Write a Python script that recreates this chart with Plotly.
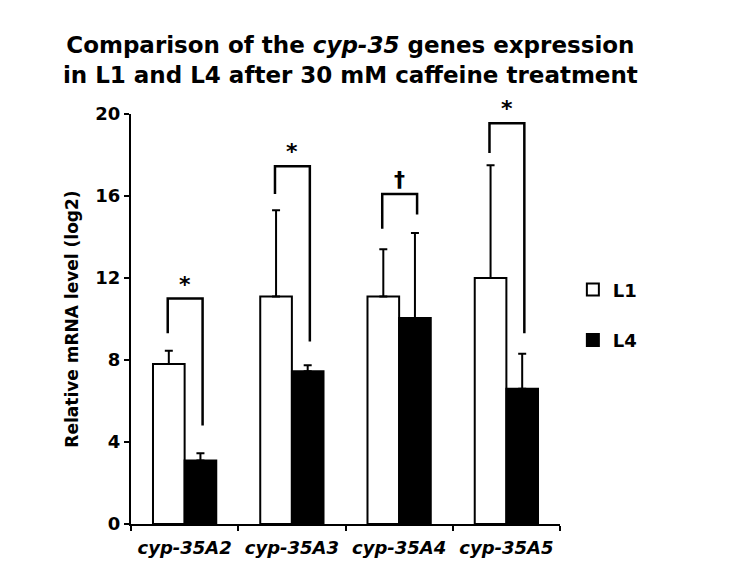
import plotly.graph_objects as go

genes = ["cyp-35A2", "cyp-35A3", "cyp-35A4", "cyp-35A5"]
l1_values = [7.8, 11.1, 11.1, 12.0]
l1_err = [0.65, 4.2, 2.3, 5.5]
l4_values = [3.1, 7.45, 10.05, 6.6]
l4_err = [0.35, 0.3, 4.15, 1.7]

# significance brackets (y values)
bracket_top = [11.0, 17.45, 16.1, 19.55]
left_leg_bottom = [9.3, 16.1, 14.4, 18.1]
right_leg_bottom = [4.8, 8.9, 15.1, 9.3]
sig_marks = ["*", "*", "†", "*"]

font = "DejaVu Sans, Verdana, sans-serif"
tick_text = ["<b><i>%s</i></b>" % g for g in genes]

fig = go.Figure()
fig.add_trace(go.Bar(
    x=genes, y=l1_values, name="<b>L1</b>",
    marker=dict(color="white", line=dict(color="black", width=2)),
    error_y=dict(type="data", symmetric=False, array=l1_err,
                 arrayminus=[0] * len(genes), color="black",
                 thickness=2, width=4),
    legendgroup="a",
))
fig.add_trace(go.Bar(
    x=genes, y=l4_values, name="<b>L4</b>",
    marker=dict(color="black", line=dict(color="black", width=2)),
    error_y=dict(type="data", symmetric=False, array=l4_err,
                 arrayminus=[0] * len(genes), color="black",
                 thickness=2, width=4),
    legendgroup="b",
))

bargap = 0.41
off = (1 - bargap) / 4
for i in range(len(genes)):
    xl = i - off - 0.01
    xr = i + off + 0.02
    path = "M %f,%f L %f,%f L %f,%f L %f,%f" % (
        xl, left_leg_bottom[i], xl, bracket_top[i],
        xr, bracket_top[i], xr, right_leg_bottom[i])
    fig.add_shape(type="path", path=path, xref="x", yref="y",
                  line=dict(color="black", width=2.5))
    fig.add_annotation(x=(xl + xr) / 2, y=bracket_top[i], xref="x", yref="y",
                       text="<b>%s</b>" % sig_marks[i], showarrow=False,
                       yanchor="bottom", yshift=0,
                       font=dict(size=22, color="black", family=font))

fig.update_layout(
    width=730, height=577,
    paper_bgcolor="white", plot_bgcolor="white",
    margin=dict(l=123, r=178, t=106, b=61),
    font=dict(family=font, color="black"),
    title=dict(
        text="<b>Comparison of the <i>cyp-35</i> genes expression<br>"
             "in L1 and L4 after 30 mM caffeine treatment</b>",
        x=0.469, xanchor="center", y=0.922, yanchor="top",
        font=dict(size=23, family=font, color="black"),
    ),
    barmode="group", bargap=bargap, bargroupgap=0,
    showlegend=True,
    legend=dict(x=1.03, y=0.51, xanchor="left", yanchor="middle",
                font=dict(size=18, family=font, color="black"),
                tracegroupgap=24, itemwidth=30, traceorder="grouped",
                bgcolor="rgba(0,0,0,0)"),
)
fig.update_xaxes(
    tickmode="array", tickvals=genes, ticktext=tick_text,
    tickfont=dict(size=18, family=font, color="black"),
    ticklabelstandoff=6,
    showline=True, linecolor="black", linewidth=2,
    ticks="outside", tickson="boundaries", ticklen=5, tickwidth=2,
    tickcolor="black", showgrid=False, zeroline=False,
)
fig.update_yaxes(
    range=[0, 20], tickvals=[0, 4, 8, 12, 16, 20],
    ticktext=["<b>%d</b>" % v for v in [0, 4, 8, 12, 16, 20]],
    tickfont=dict(size=18, family=font, color="black"),
    title=dict(text="<b>Relative mRNA level (log2)</b>", standoff=12,
               font=dict(size=17, family=font, color="black")),
    showline=True, linecolor="black", linewidth=2,
    ticks="outside", ticklen=5, tickwidth=2, tickcolor="black",
    showgrid=False, zeroline=False,
)

fig.write_html("out.html")
